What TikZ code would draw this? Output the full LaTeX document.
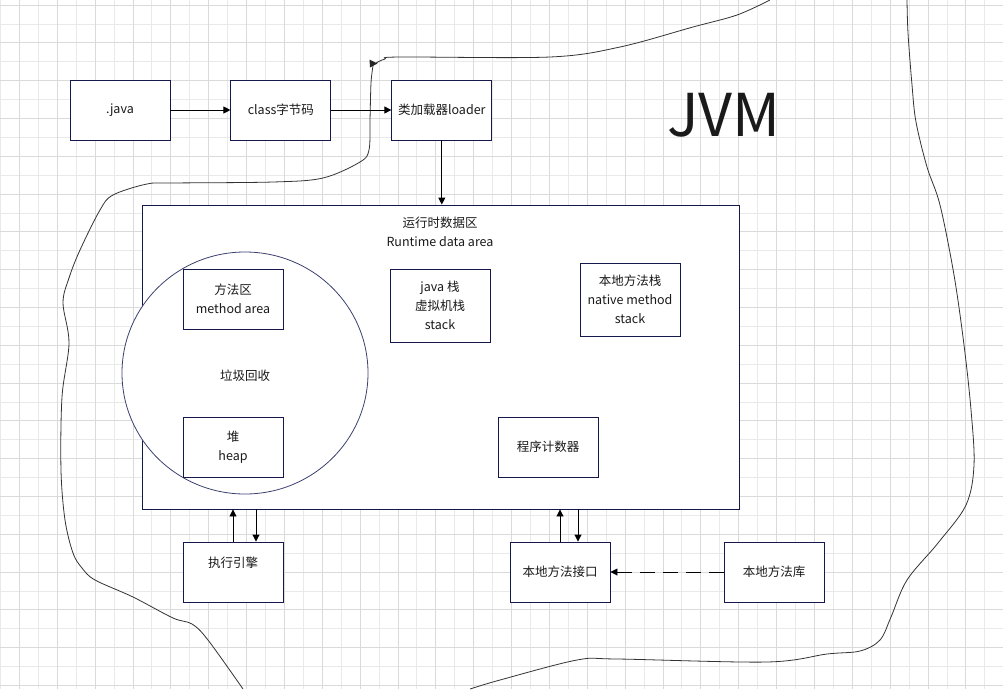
\documentclass[tikz,border=0pt]{standalone}
\usepackage{fontspec}
\setmainfont{Noto Sans CJK SC}
\usetikzlibrary{arrows.meta,positioning,shapes.geometric}
\definecolor{boxline}{HTML}{14184A}
\definecolor{ringline}{HTML}{3C4170}
\definecolor{gridmajor}{HTML}{DADADA}
\definecolor{gridminor}{HTML}{E9E9E9}
\definecolor{inktext}{HTML}{1A1A1A}
\tikzset{
  box/.style={draw=boxline, fill=white, line width=0.9pt, minimum width=100pt, minimum height=60pt,
    align=center, inner sep=2pt, text=inktext, font=\fontsize{12.5}{19}\selectfont},
  plain/.style={align=center, inner sep=0pt, text=inktext, font=\fontsize{12.5}{19}\selectfont},
  link/.style={-{Triangle[length=7pt,width=7pt]}, line width=0.9pt},
  sketch/.style={line width=0.8pt, black!80, smooth, tension=0.55},
}
\begin{document}
\begin{tikzpicture}[x=1pt,y=-1pt]
\useasboundingbox (0,0) rectangle (1003,689);
\fill[white] (0,0) rectangle (1003,689);
% grid
\foreach \i in {0,...,53} {
  \pgfmathsetmacro\gx{0.4+18.93*\i}
  \ifodd\i\else \draw[gridminor, line width=0.8pt] (\gx,0) -- (\gx,689); \fi
}
\foreach \i in {0,...,36} {
  \pgfmathsetmacro\gy{5+18.9*\i}
  \ifodd\i \draw[gridminor, line width=0.8pt] (0,\gy) -- (1003,\gy); \fi
}
\foreach \i in {0,...,53} {
  \pgfmathsetmacro\gx{0.4+18.93*\i}
  \ifodd\i \draw[gridmajor, line width=0.8pt] (\gx,0) -- (\gx,689); \fi
}
\foreach \i in {0,...,36} {
  \pgfmathsetmacro\gy{5+18.9*\i}
  \ifodd\i\else \draw[gridmajor, line width=0.8pt] (0,\gy) -- (1003,\gy); \fi
}

% freehand outline
\draw[sketch] plot coordinates {(770,0) (737,15) (693,27) (620,47) (550,57) (400,57) (385,59) (376,63)};
\draw[sketch] plot coordinates {(373,66) (371,83) (370,120) (369,150) (360,162) (323,178) (273,182)
  (173,183) (147,184) (113,195) (100,210) (80,250) (69,278) (63,303) (69,343) (62,397) (61,470)
  (65,520) (73,553) (82,568) (95,580) (133,597) (173,618) (192,624) (208,640) (243,689)};
\draw[sketch] plot coordinates {(470,689) (500,680) (577,660) (617,659) (767,662) (827,654) (860,651)
  (880,640) (891,617) (907,580) (938,543) (966,505) (974,465) (971,410) (964,345) (954,275)
  (940,205) (927,167) (916,122) (912,85) (908,33) (907,0)};
\fill[black!85] (369.5,59.5) -- (377.5,63.5) -- (370,67.5) -- cycle;

% top row
\node[box] (java) at (120,110) {.java};
\node[box, right=60pt of java] (bytecode) {class字节码};
\node[box, right=60pt of bytecode] (loader) {类加载器loader};
\node[text=inktext, font=\fontsize{59}{59}\selectfont, inner sep=0pt] (jvm) at (724,115) {JVM};

% runtime data area
\node[draw=boxline, fill=white, line width=0.9pt, minimum width=597pt, minimum height=304pt] (runtime) at (440.5,357) {};
\node[plain] (rtitle) at (440,232) {运行时数据区\\Runtime data area};
\node[draw=ringline, fill=white, line width=0.8pt, ellipse, minimum width=246pt, minimum height=242pt, inner sep=0pt] (ring) at (245,373) {};
\node[plain] (gc) at (245,376) {垃圾回收};
\node[box] (method) at (233,299) {方法区\\method area};
\node[box] (heap) at (233,447) {堆\\heap};
\node[box, minimum height=73pt] (jstack) at (440,305.5) {java 栈\\虚拟机栈\\stack};
\node[box, minimum height=73pt] (nstack) at (630,299.5) {本地方法栈\\native method\\stack};
\node[box] (pc) at (548,447) {程序计数器};

% bottom row
\node[box] (exec) at (233,572) {执行引擎\\\mbox{}};
\node[box] (nif) at (560,572) {本地方法接口};
\node[box] (nlib) at (774,572) {本地方法库};

% connectors
\draw[link] (java) -- (bytecode);
\draw[link] (bytecode) -- (loader);
\draw[link] (loader.south) -- (loader.south |- runtime.north);
\draw[link] (exec.north) -- (exec.north |- runtime.south);
\draw[link] ([xshift=23pt]exec.north |- runtime.south) -- ([xshift=23pt]exec.north);
\draw[link] (nif.north) -- (nif.north |- runtime.south);
\draw[link] ([xshift=18pt]nif.north |- runtime.south) -- ([xshift=18pt]nif.north);
\draw[link, dash pattern=on 15pt off 8pt] (nlib) -- (nif);
\end{tikzpicture}
\end{document}
